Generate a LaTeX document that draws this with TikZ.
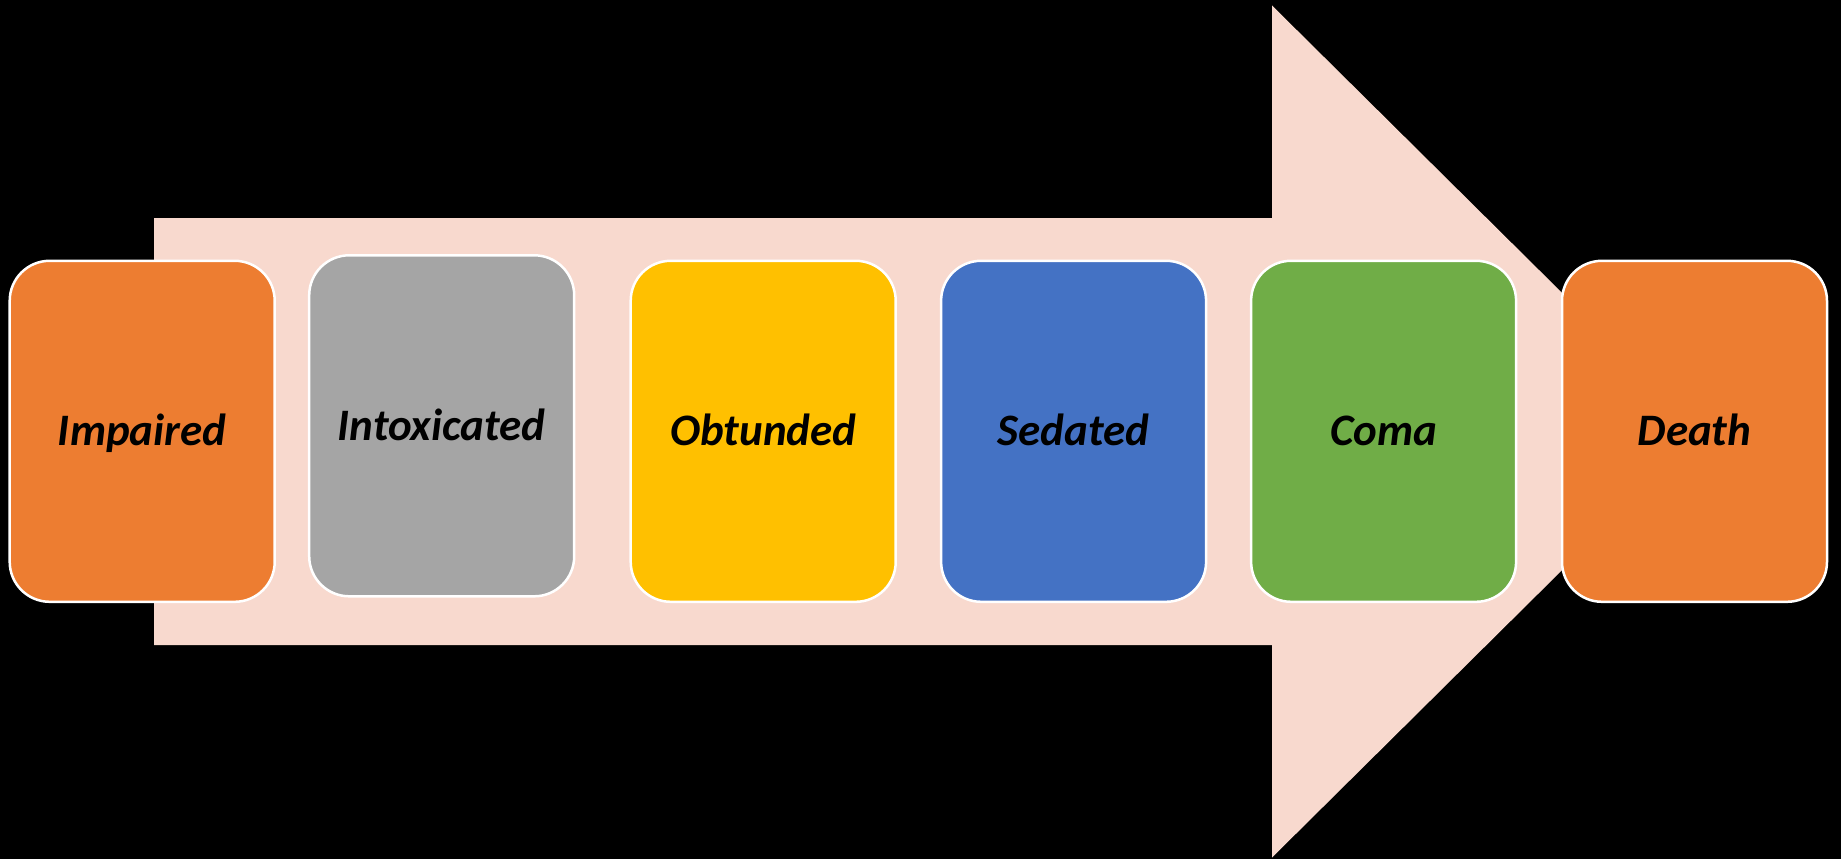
\documentclass[tikz,border=0pt]{standalone}
\usepackage{fontspec}
\setmainfont{Carlito}
\definecolor{arrowfill}{HTML}{F8D9CE}
\definecolor{stOrange}{HTML}{ED7D31}
\definecolor{stGray}{HTML}{A5A5A5}
\definecolor{stYellow}{HTML}{FFC000}
\definecolor{stBlue}{HTML}{4472C4}
\definecolor{stGreen}{HTML}{70AD47}
\begin{document}
\begin{tikzpicture}[x=1pt,y=-1pt,
  stage/.style={draw=white, line width=2.5pt, rounded corners=40pt,
    rectangle, inner sep=0pt, minimum width=265pt, minimum height=341pt,
    text height=29pt, text depth=0pt,
    font=\fontsize{45}{54}\selectfont\bfseries\itshape, text=black}]
  % page and background
  \fill[black] (0,0) rectangle (1841,859);
  \useasboundingbox (0,0) rectangle (1841,859);
  % big block arrow behind the stages
  \fill[arrowfill] (154,218) -- (1272,218) -- (1272,5.5) -- (1702,431.5)
    -- (1272,857.5) -- (1272,645) -- (154,645) -- cycle;
  % stages
  \node[stage, fill=stOrange] (impaired) at (142.2,431.3) {Impaired};
  \node[stage, fill=stGray]   (intox)    at (441.7,425.8) {Intoxicated};
  \node[stage, fill=stYellow] (obtunded) at (763.2,431.3) {Obtunded};
  \node[stage, fill=stBlue]   (sedated)  at (1073.6,431.3) {Sedated};
  \node[stage, fill=stGreen]  (coma)     at (1383.6,431.3) {Coma};
  \node[stage, fill=stOrange] (death)    at (1694.5,431.3) {Death};
\end{tikzpicture}
\end{document}
